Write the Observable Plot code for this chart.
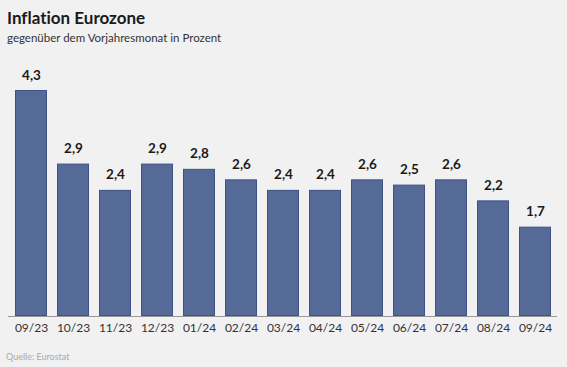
<!DOCTYPE html>
<html>
<head>
<meta charset="utf-8">
<script src="https://cdn.jsdelivr.net/npm/d3@7"></script>
<script src="https://cdn.jsdelivr.net/npm/@observablehq/plot@0.6"></script>
<style>
  html, body { margin: 0; padding: 0; background: #f1f1f1; width: 567px; height: 367px; overflow: hidden; font-family: Lato, "Noto Sans", sans-serif; font-variant-ligatures: none; }
  #title { position: absolute; left: 7px; top: 7px; font-size: 17px; font-weight: bold; color: #1a1a1a; }
  #subtitle { position: absolute; left: 7px; top: 31px; font-size: 11.5px; color: #333; }
  #chart { position: absolute; left: 0; top: 50px; }
  #caption { position: absolute; left: 6px; top: 351px; font-size: 9px; color: #aaa; }
</style>
</head>
<body>
<div id="title">Inflation Eurozone</div>
<div id="subtitle">gegenüber dem Vorjahresmonat in Prozent</div>
<div id="chart"></div>
<div id="caption">Quelle: Eurostat</div>
<script>
const months = ["09/23","10/23","11/23","12/23","01/24","02/24","03/24","04/24","05/24","06/24","07/24","08/24","09/24"];
const values = [4.3, 2.9, 2.4, 2.9, 2.8, 2.6, 2.4, 2.4, 2.6, 2.5, 2.6, 2.2, 1.7];
const data = months.map((m, i) => ({month: m, value: values[i]}));
const fmt = v => v.toFixed(1).replace(".", ",");

const chart = Plot.plot({
  width: 567,
  height: 297,
  marginLeft: 8,
  marginRight: 10,
  marginTop: 40,
  marginBottom: 31,
  style: {background: "transparent", fontFamily: "Lato, 'Noto Sans', sans-serif"},
  x: {domain: months, paddingInner: 0.245, paddingOuter: 0.1, axis: null},
  y: {domain: [0, 4.3], axis: null},
  marks: [
    Plot.barY(data, {x: "month", y: "value", fill: "#566a98", stroke: "#3d5285", strokeWidth: 1, inset: 0.5}),
    Plot.ruleY([0], {stroke: "#999", strokeWidth: 1}),
    Plot.text(data, {x: "month", y: "value", text: d => fmt(d.value), lineAnchor: "bottom", dy: -11, fontSize: 13.5, fontWeight: "bold", fill: "#1a1a1a"}),
    Plot.axisX({tickSize: 0, tickPadding: 7, fontSize: 12, fill: "#333", label: null})
  ]
});
document.getElementById("chart").appendChild(chart);
</script>
</body>
</html>
